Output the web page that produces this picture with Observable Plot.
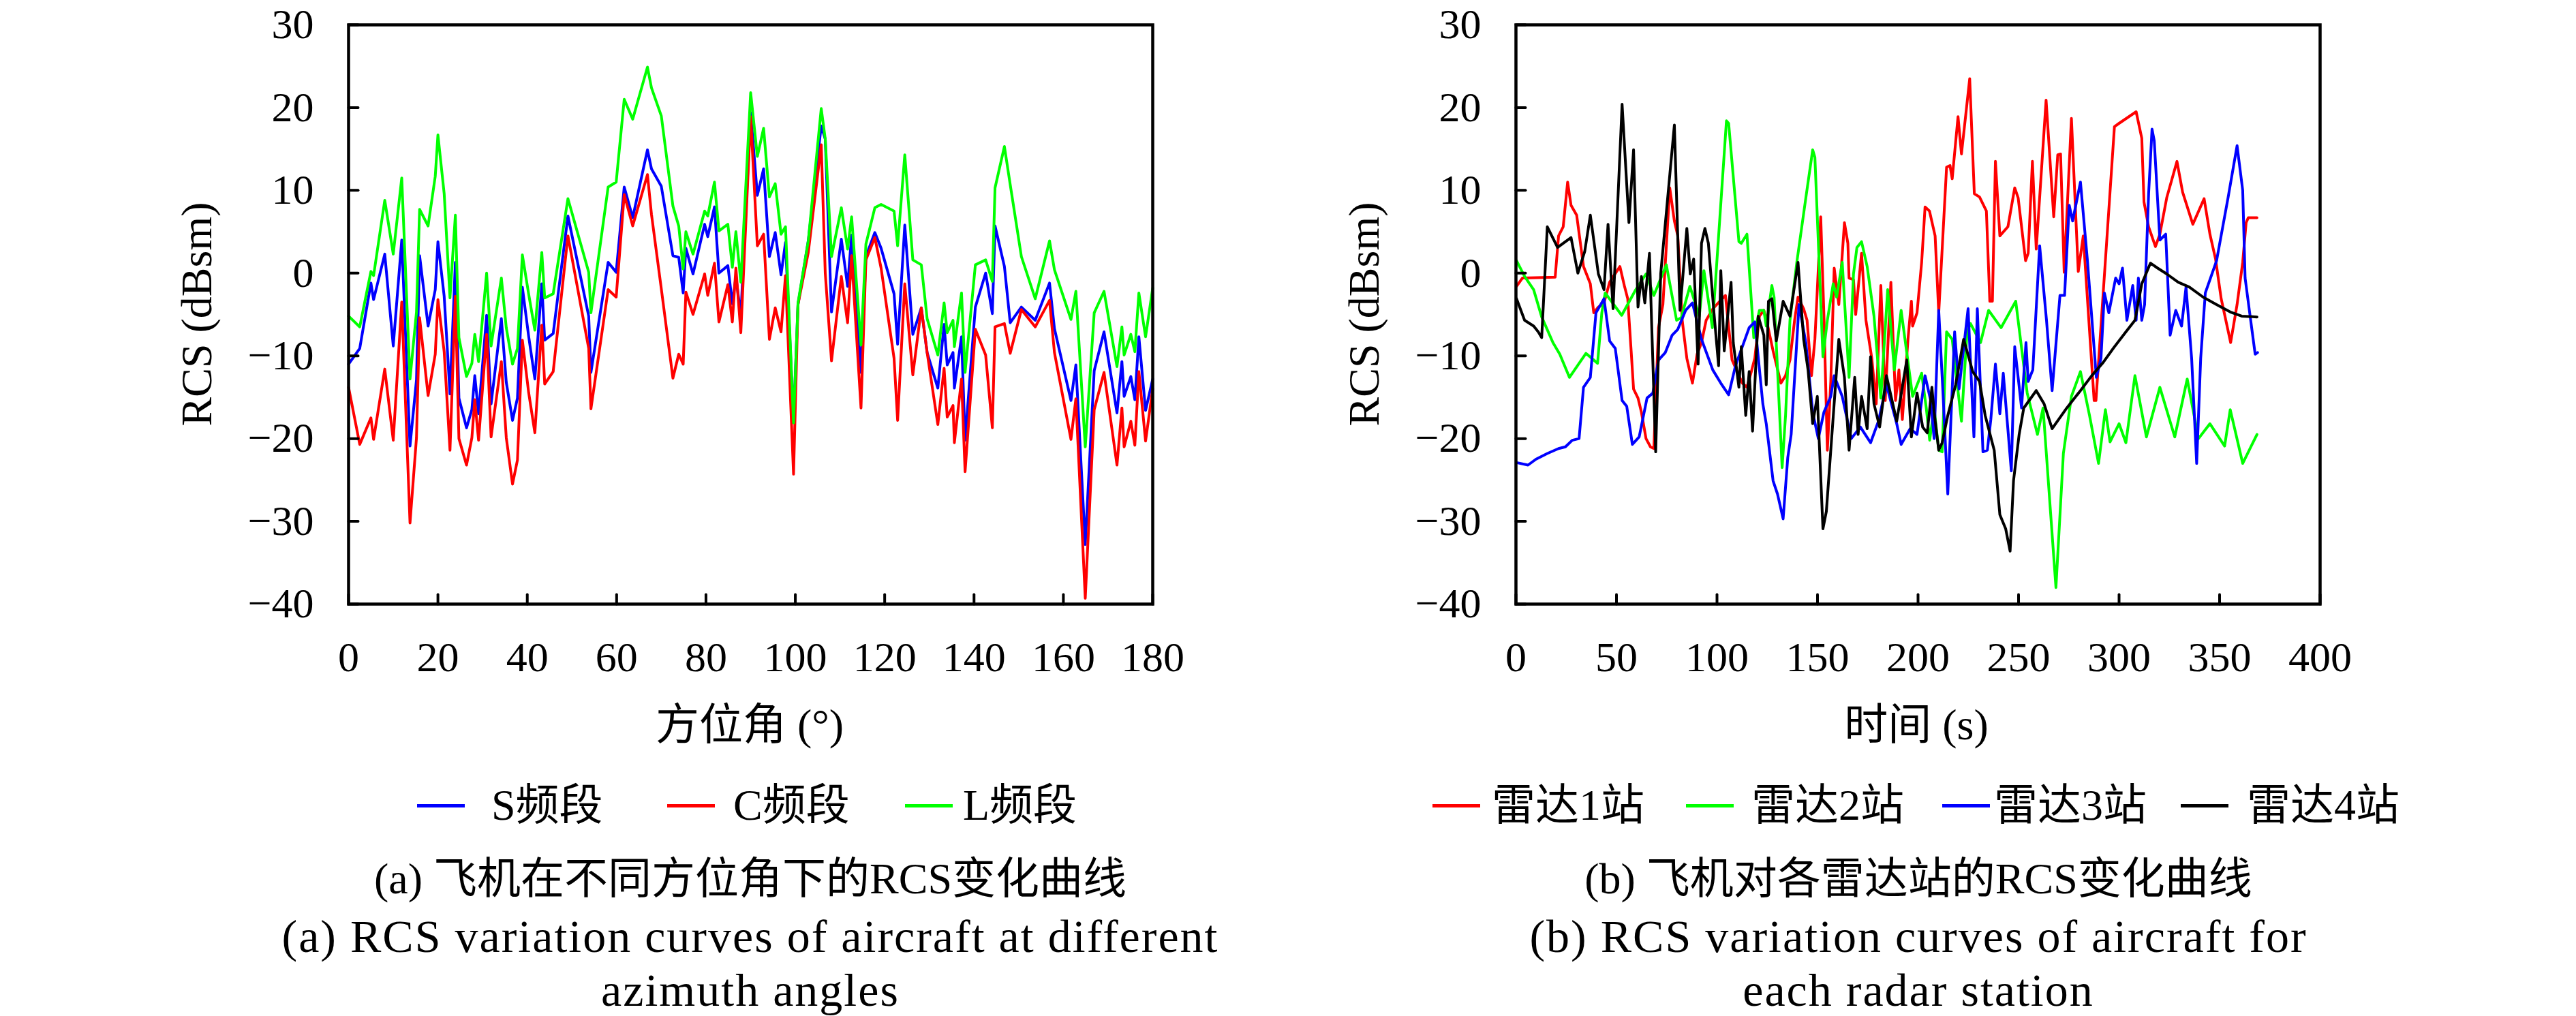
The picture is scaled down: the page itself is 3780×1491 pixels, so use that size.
<!DOCTYPE html>
<html>
<head>
<meta charset="utf-8">
<script src="https://cdn.jsdelivr.net/npm/d3@7"></script>
<script src="https://cdn.jsdelivr.net/npm/@observablehq/plot@0.6"></script>
<style>
  html, body { margin: 0; padding: 0; background: #fff; }
  #page { position: relative; width: 3780px; height: 1491px; background: #fff; overflow: hidden;
          font-family: "Liberation Serif", "Noto Sans CJK SC", serif; color: #000; }
  .abs { position: absolute; white-space: nowrap; line-height: 1; }
  .c { transform: translate(-50%, -50%); }
  .cap-zh { font-size: 64px; }
  .cap-en { font-size: 68px; letter-spacing: 2px; }
  .axt { font-size: 64px; }
  .leg { font-size: 64px; transform: translateY(-50%); }
  .legline { position: absolute; height: 5px; }
</style>
</head>
<body>
<div id="page"></div>
<script>
// ---------- (a) RCS vs azimuth ----------
const azimuth = [0,2.5,5,5.6,8.1,10,11.9,13.75,15.2,15.9,17.8,19.4,20,21.4,22.7,23.9,24.7,26.4,27.6,28.25,29.1,30.9,31.9,34.2,35.3,36.7,37.8,38.9,40.3,41.7,43.25,43.9,45.8,49.1,53.75,54.25,58.1,59.9,61.7,63.6,66.9,67.8,70,72.6,73.9,74.9,75.5,77.1,79.7,80.4,81.9,82.9,84.9,85.9,86.7,87.8,
  90,91.5,92.9,94.2,95.5,96.8,97.8,99.6,100.6,102.9,105.8,106.7,108.1,110.3,111.7,112.6,114.7,115.8,117.8,119.2,122.1,122.9,124.5,126.3,128.2,129.5,131.9,133.3,134.0,135.3,135.6,137.2,138.0,140.3,142.6,144.1,144.7,146.8,148.1,150.6,153.7,156.9,158.0,161.7,162.8,164.9,166.9,169.1,172.0,173.1,173.6,175.1,176.0,176.9,178.4,180];
const bandS = [-11.0,-9.1,-1.2,-3.2,2.3,-8.8,4.0,-20.9,-12.9,2.1,-6.4,-2.0,3.8,-2.8,-14.6,1.3,-15.1,-18.7,-16.5,-12.4,-17.0,-5.1,-15.8,-5.5,-13.2,-17.8,-15.1,-1.7,-7.6,-12.8,-1.3,-8.1,-7.3,6.9,-5.2,-12.0,1.3,0.1,10.4,6.7,14.9,12.6,10.5,2.1,1.9,-2.4,3.0,-0.1,5.9,4.4,8.0,0.0,0.9,-3.7,-0.4,-5.2,
  19.4,9.4,12.6,2.0,4.9,-0.2,3.7,-17.8,-3.8,3.9,17.8,16.2,-4.7,4.1,-1.6,4.6,-12.0,2.0,4.9,3.0,-2.5,-8.6,5.8,-7.4,-4.2,-9.6,-13.9,-6.2,-11.1,-9.6,-13.9,-7.7,-20.2,-4.1,0.0,-4.9,5.7,0.8,-6.0,-4.1,-5.7,-1.2,-6.7,-15.4,-11.1,-32.8,-11.8,-7.1,-16.9,-10.7,-14.9,-12.5,-15.3,-7.7,-16.6,-12.8];
const bandC = [-13.8,-20.7,-17.5,-20.1,-11.6,-20.2,-3.5,-30.2,-19.9,-5.4,-14.8,-9.8,-3.2,-9.5,-21.4,-2.8,-20.0,-23.2,-19.9,-15.3,-20.2,-7.4,-19.8,-10.7,-19.9,-25.5,-22.6,-8.1,-14.4,-19.3,-6.3,-13.4,-11.9,4.5,-9.1,-16.4,-2.0,-2.9,9.5,5.7,11.9,7.1,-1.9,-12.7,-9.8,-11.0,-2.3,-5.0,-0.1,-2.7,1.2,-5.9,-1.4,-5.9,0.6,-7.2,
  18.9,3.3,4.7,-8.0,-4.2,-7.1,-0.3,-24.3,-3.8,2.5,15.5,0.0,-10.6,-0.4,-6.0,2.1,-16.3,1.6,4.3,0.6,-10.3,-17.8,-1.3,-12.3,-4.2,-9.6,-18.3,-11.5,-17.4,-16.0,-20.5,-12.8,-24.0,-6.8,-9.9,-18.7,-6.5,-6.1,-9.7,-4.4,-6.5,-3.3,-9.6,-20.1,-15.2,-39.3,-16.5,-12.0,-23.2,-16.3,-21.0,-17.9,-20.8,-11.9,-20.3,-14.0];
const bandL = [-5.2,-6.5,0.2,-0.3,8.8,2.3,11.5,-12.8,-4.7,7.7,5.7,11.7,16.7,9.6,-3.0,7.0,-7.8,-12.5,-10.9,-7.4,-10.7,0.0,-8.8,-0.6,-6.6,-11.0,-9.1,2.2,-2.5,-6.9,2.5,-3.0,-2.5,9.0,0.1,-4.8,10.4,11.0,21.0,18.6,24.9,22.4,19.0,8.1,5.7,0.5,5.0,2.3,7.5,6.9,11.0,5.1,5.9,0.7,5.0,-1.1,
  21.8,14.1,17.5,9.2,10.8,4.7,5.6,-18.1,-3.6,3.9,19.9,16.2,2.0,7.9,2.9,6.8,-8.7,3.5,7.9,8.3,7.5,3.3,14.3,1.6,1.0,-5.5,-9.9,-3.6,-7.2,-5.7,-8.9,-2.4,-12.0,1.0,1.6,-1.0,10.3,15.3,10.7,2.0,-3.1,3.9,0.4,-5.6,-2.2,-21.0,-4.8,-2.2,-11.3,-6.5,-9.9,-7.4,-9.5,-2.4,-7.7,-1.8];
const bandNames = ["S频段", "C频段", "L频段"];

// ---------- (b) RCS vs time per radar station ----------
const timeR1 = [0.3,3.2,19.5,21.2,23.5,25.7,27.4,30.2,33.6,37.0,38.7,41.0,43.8,46.6,51.7,53.9,55.6,57.3,58.5,60.7,62.4,64.7,66.9,68.6,70.9,73.1,76.5,78.8,80.5,82.7,85.0,87.8,90.1,92.3,94.6,98.0,101.4,104.2,107.5,112.6,114.9,117.1,118.8,121.1,123.3,125.0,127.9,131.8,134.1,136.3,138.6,140.3,143.1,144.8,147.0,148.7,149.9,151.6,153.2,154.9,156.6,158.3,160.6,163.4,165.1,165.7,167.9,169.0,171.9,174.1,177.0,179.2,181.5,183.7,186.5,188.8,190.5,192.2,195.0,196.7,197.3,199.5,201.8,203.5,205.7,208.5,210.3,214.2,215.9,217.0,219.9,221.6,225.7,228.0,230.6,234.0,235.7,237.0,238.5,240.7,244.7,248.1,249.8,253.5,254.8,256.9,258.8,263.7,267.5,269.5,270.9,272.7,276.3,279.7,282.2,287.6,288.5,297.7,300.0,308.5,311.3,312.4,314.7,318.1,320.3,323.7,328.8,331.6,336.7,342.3,345.2,348.0,350.8,355.5,358.7,361.5,363.2,364.3,368.6];
const rcsR1 = [-1.6,-0.6,-0.5,4.5,5.6,11.0,8.2,7.0,0.8,-1.3,-4.8,-4.1,-3.6,-1.1,0.8,-1.5,-3.1,-9.4,-14.0,-15.1,-16.8,-20.0,-21.0,-21.2,-6.6,-3.8,10.3,6.3,4.5,-5.7,-10.3,-13.3,-9.8,-8.4,-5.7,-4.3,-3.4,-2.7,-10.5,-13.3,-13.8,-11.9,-10.3,-5.2,-4.5,-6.1,-9.4,-13.3,-12.4,-10.5,-5.7,-2.9,-4.3,-5.7,-12.4,-8.0,-2.0,6.8,-5.2,-21.4,-13.1,0.6,-3.8,6.1,3.6,-0.6,-0.8,-5.0,2.4,-5.7,-10.3,-15.8,-1.5,-15.4,-1.1,-15.4,-11.7,-17.7,-8.0,-3.4,-6.4,-4.8,1.3,8.0,7.5,4.5,-4.8,12.8,13.0,11.4,18.9,14.4,23.5,9.6,9.2,7.5,-3.4,-3.4,13.5,4.5,5.6,10.3,9.1,1.5,2.4,13.5,2.9,20.9,6.8,14.3,14.4,0.1,18.7,0.2,4.5,-15.4,-15.4,17.7,18.1,19.5,16.3,8.6,5.6,3.2,4.7,9.1,13.5,9.8,5.9,9.0,4.7,1.7,-3.1,-8.4,-3.8,1.3,6.1,6.7,6.7];
const timeR2 = [0.3,4.3,8.8,12.8,18.4,21.8,26.6,34.8,40.6,42.7,44.4,52.6,59.6,64.7,68.6,74.8,79.9,82.2,86.5,91.2,93.5,97.7,104.7,105.8,110.9,112.1,114.9,118.3,121.1,123.3,124.5,127.3,128.4,132.4,134.1,136.3,139.7,144.2,147.6,148.7,152.7,154.9,157.8,159.5,162.3,165.7,167.9,169.6,171.9,174.7,178.1,181.5,184.9,188.2,191.6,197.3,201.8,204.1,205.8,208.0,210.3,212.0,214.2,217.0,221.6,224.4,226.1,231.1,235.1,241.3,248.6,254.3,259.4,262.2,268.6,272.3,276.3,280.8,285.3,289.8,293.2,295.5,300.0,303.4,307.9,313.6,320.3,327.7,333.9,339.5,345.2,352.5,355.3,361.5,368.6];
const rcsR2 = [1.5,-0.4,-2.0,-5.3,-8.4,-9.8,-12.6,-9.7,-10.9,-4.8,-2.4,-5.1,-2.0,-0.1,-2.7,1.0,-5.7,-5.4,-1.6,-5.2,0.3,-6.6,18.4,18.1,3.8,3.6,4.7,-7.8,-4.5,-4.5,-6.4,-1.5,-2.9,-23.5,-17.2,-5.7,1.3,9.1,14.9,14.0,-10.1,-5.7,-1.3,-2.9,1.3,-12.6,-0.1,3.1,3.8,0.8,-5.2,-15.1,-2.0,-11.7,-4.5,-14.9,-12.1,-16.3,-20.2,-16.3,-21.4,-21.6,-7.1,-8.0,-17.9,-7.1,-6.1,-8.4,-4.5,-6.6,-3.4,-14.5,-19.5,-16.3,-38.0,-21.8,-14.9,-11.9,-17.2,-23.0,-16.5,-20.4,-18.2,-20.5,-12.4,-19.8,-13.8,-19.8,-12.8,-20.0,-18.2,-20.9,-16.5,-23.0,-19.5];
const timeR3 = [0.3,6.0,9.9,15.6,21.2,24.6,28.0,31.4,33.6,37.0,39.8,43.8,46.6,49.4,52.8,55.1,57.9,61.3,65.2,68.1,70.9,74.3,77.7,80.5,84.4,87.8,92.3,97.9,101.9,105.8,109.2,112.6,116.0,118.8,122.8,124.5,127.9,130.1,132.9,135.2,136.9,140.8,144.2,147.6,150.4,153.2,156.6,158.3,162.3,166.8,171.3,176.4,180.3,184.3,189.4,191.6,196.1,199.5,203.5,206.3,208.0,210.3,212.5,214.8,218.2,220.4,224.9,227.8,229.5,232.3,234.5,236.2,238.5,240.7,242.4,246.4,248.1,251.5,253.7,254.8,257.1,260.5,263.9,266.7,270.6,272.9,275.2,276.9,280.8,284.2,288.7,291.0,292.7,294.9,298.3,300.0,301.7,303.9,306.8,308.5,309.6,311.3,312.7,314.7,316.4,317.5,320.3,323.2,325.4,328.2,331.1,333.3,336.1,338.6,340.6,342.9,348.5,354.2,358.7,361.5,362.7,365.3,367.7,368.9];
const rcsR3 = [-22.9,-23.2,-22.5,-21.8,-21.2,-21.0,-20.2,-20.0,-13.8,-12.6,-4.8,-3.1,-8.2,-9.1,-15.4,-16.1,-20.7,-19.8,-15.1,-14.5,-10.5,-9.6,-7.5,-6.8,-4.5,-3.6,-8.0,-11.7,-13.3,-14.7,-11.2,-8.9,-6.6,-5.9,-15.8,-18.2,-25.1,-26.7,-29.7,-22.3,-19.5,-3.8,-8.4,-16.8,-20.0,-16.8,-14.9,-12.4,-14.9,-20.0,-18.6,-20.5,-17.9,-13.5,-18.2,-20.7,-18.8,-19.5,-12.4,-15.4,-20.0,-4.5,-14.9,-26.7,-7.1,-14.0,-4.3,-19.8,-4.3,-21.6,-21.4,-17.7,-11.0,-17.0,-12.1,-23.9,-8.9,-16.3,-8.4,-13.1,-11.7,3.3,-5.7,-14.2,-2.7,-2.7,8.2,6.3,11.0,1.7,-12.6,-10.3,-2.4,-4.8,-0.6,-1.3,0.6,-5.7,-1.5,-5.7,-0.6,-5.7,-3.8,9.6,17.4,16.0,4.0,4.7,-7.5,-4.5,-6.4,-1.7,-10.3,-23.0,-10.3,-2.4,1.5,9.1,15.4,10.0,-0.6,-5.4,-9.8,-9.6];
const timeR4 = [0.3,4.3,8.8,11.1,12.8,15.6,20.7,27.4,30.8,34.2,37.0,41.0,43.8,45.8,48.3,52.8,56.2,58.5,60.7,62.4,64.1,66.4,69.5,72.0,78.8,81.6,85.0,86.7,88.4,90.6,92.3,94.0,95.7,98.5,100.8,101.9,103.6,107.0,108.1,110.9,112.1,114.3,116.0,117.7,120.5,123.3,124.5,125.6,127.3,129.5,132.9,136.3,140.3,143.1,145.3,147.6,149.9,152.7,154.4,160.6,163.4,165.7,168.5,170.2,171.9,174.7,176.4,178.1,180.9,184.3,189.4,194.4,196.7,199.5,202.3,204.6,206.9,208.0,210.3,212.0,214.8,218.7,222.7,227.2,230.6,233.4,237.9,240.7,243.6,245.8,247.5,250.3,252.6,258.8,262.7,266.7,274.0,280.8,286.4,292.1,297.7,303.4,307.9,311.3,315.6,319.2,323.7,329.4,335.0,341.8,348.5,355.3,361.0,368.6];
const rcsR4 = [-3.1,-5.7,-6.4,-7.1,-7.8,5.6,3.1,4.3,0.0,2.6,7.0,-0.1,-2.0,5.9,-4.3,20.4,6.1,14.9,-4.1,-0.4,-3.6,2.4,-21.6,-0.1,17.9,-4.5,5.4,-0.1,1.7,-11.0,3.6,5.4,3.6,-4.8,-11.2,0.3,-9.4,-1.1,-8.4,-13.8,-8.9,-17.2,-11.9,-19.1,-5.2,-7.5,-13.5,-3.4,-3.1,-8.2,-3.4,-5.2,1.3,-8.0,-11.7,-18.2,-14.9,-30.9,-28.8,-8.0,-12.6,-21.4,-12.6,-19.5,-14.9,-18.8,-10.1,-15.8,-18.6,-12.4,-17.9,-10.5,-19.8,-14.5,-18.6,-19.3,-13.8,-16.8,-21.4,-20.5,-17.2,-13.5,-8.0,-11.9,-13.1,-17.2,-21.4,-29.2,-30.9,-33.6,-25.1,-19.5,-16.3,-14.2,-15.8,-18.8,-16.3,-14.2,-12.4,-10.8,-8.9,-7.1,-5.7,-1.3,1.2,0.6,-0.1,-1.1,-1.7,-2.9,-3.8,-4.7,-5.2,-5.3];
const stationNames = ["雷达1站", "雷达2站", "雷达3站", "雷达4站"];

// ---------- ticks & labels ----------
const yTicks = [-40, -30, -20, -10, 0, 10, 20, 30];
const azTicks = [0, 20, 40, 60, 80, 100, 120, 140, 160, 180];
const timeTicks = [0, 50, 100, 150, 200, 250, 300, 350, 400];
const yLabel = "RCS (dBsm)";
const xLabelA = "方位角 (°)";
const xLabelB = "时间 (s)";
const captionA = ["(a) 飞机在不同方位角下的RCS变化曲线", "(a) RCS variation curves of aircraft at different", "azimuth angles"];
const captionB = ["(b) 飞机对各雷达站的RCS变化曲线", "(b) RCS variation curves of aircraft for", "each radar station"];

// ---------- styling ----------
const bandColors = ["#0000ff", "#ff0000", "#00ff00"];
const stationColors = ["#ff0000", "#00ff00", "#0000ff", "#000000"];
const tickShape = { draw(ctx, l) { ctx.moveTo(0, 0); ctx.lineTo(0, -l); } };
const fontStyle = { fontFamily: "Liberation Serif, serif", fontSize: "62px", overflow: "visible", background: "transparent", color: "#000" };

function frameMarks(xTicks) {
  return [
    Plot.axisY(yTicks, { tickSize: 0, tickPadding: 51, label: null }),
    Plot.axisX(xTicks, { tickSize: 0, tickPadding: 54, label: null }),
    Plot.vector(yTicks, { y: d => d, frameAnchor: "left", length: 14, rotate: 90, anchor: "start", shape: tickShape, stroke: "#000", strokeWidth: 4 }),
    Plot.vector(xTicks, { x: d => d, frameAnchor: "bottom", length: 14, rotate: 0, anchor: "start", shape: tickShape, stroke: "#000", strokeWidth: 4 }),
    Plot.frame({ stroke: "#000", strokeWidth: 4.5 })
  ];
}

const seriesA = [bandS, bandC, bandL].map((vals, k) =>
  Plot.line(azimuth.map((a, i) => [a, vals[i]]), { stroke: bandColors[k], strokeWidth: 4, curve: "linear" }));

const chartA = Plot.plot({
  width: 1890, height: 1000,
  marginLeft: 511, marginRight: 199, marginTop: 36, marginBottom: 114,
  style: fontStyle,
  x: { domain: [0, 180], label: null },
  y: { domain: [-40, 30], label: null },
  marks: [...seriesA, ...frameMarks(azTicks)]
});

const tSeries = [[timeR1, rcsR1], [timeR2, rcsR2], [timeR3, rcsR3], [timeR4, rcsR4]];
const seriesB = tSeries.map(([ts, vs], k) =>
  Plot.line(ts.map((t, i) => [t, vs[i]]), { stroke: stationColors[k], strokeWidth: 4, curve: "linear" }));

const chartB = Plot.plot({
  width: 1890, height: 1000,
  marginLeft: 334, marginRight: 376, marginTop: 36, marginBottom: 114,
  style: fontStyle,
  x: { domain: [0, 400], label: null },
  y: { domain: [-40, 30], label: null },
  marks: [...seriesB, ...frameMarks(timeTicks)]
});

// ---------- layout ----------
const page = document.getElementById("page");
function place(el, left, top) { el.style.position = "absolute"; el.style.left = left + "px"; el.style.top = top + "px"; page.appendChild(el); }
place(chartA, 0, 0);
place(chartB, 1890, 0);

function text(str, cls, x, y, extra) {
  const d = document.createElement("div");
  d.className = "abs " + cls;
  d.textContent = str;
  d.style.left = x + "px"; d.style.top = y + "px";
  if (extra) Object.assign(d.style, extra);
  page.appendChild(d);
  return d;
}

// y-axis titles (rotated)
text(yLabel, "axt c", 289, 461, { transform: "translate(-50%,-50%) rotate(-90deg)" });
text(yLabel, "axt c", 2002, 461, { transform: "translate(-50%,-50%) rotate(-90deg)" });
// x-axis titles
text(xLabelA, "axt c", 1100, 1064);
text(xLabelB, "axt c", 2812, 1064);

// legends
const legendA = { lineX: [612, 979, 1328], textX: [721, 1076, 1413] };
const legendB = { lineX: [2102, 2474, 2850, 3200], textX: [2189, 2570, 2926, 3297] };
const legendY = 1182;
function legend(names, colors, pos) {
  names.forEach((n, i) => {
    const ln = document.createElement("div");
    ln.className = "legline";
    ln.style.left = pos.lineX[i] + "px"; ln.style.top = (legendY - 2.5) + "px";
    ln.style.width = "70px"; ln.style.background = colors[i];
    page.appendChild(ln);
    text(n, "leg", pos.textX[i], legendY);
  });
}
legend(bandNames, bandColors, legendA);
legend(stationNames, stationColors, legendB);

// captions
const capY = [1290, 1374, 1453];
captionA.forEach((s, i) => text(s, (i === 0 ? "cap-zh" : "cap-en") + " c", 1101, capY[i]));
captionB.forEach((s, i) => text(s, (i === 0 ? "cap-zh" : "cap-en") + " c", 2815, capY[i]));
</script>
</body>
</html>
